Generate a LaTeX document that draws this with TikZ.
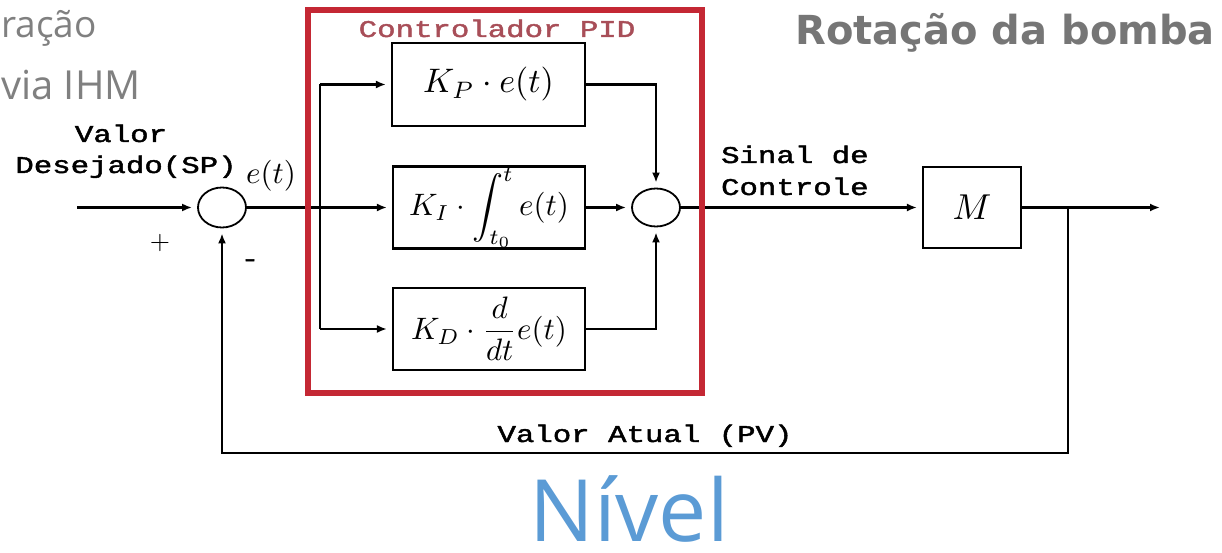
\documentclass[tikz,border=0pt]{standalone}
\usepackage{fontspec}
\usepackage{graphicx}
\usetikzlibrary{shapes.geometric,arrows.meta}
\newfontfamily\monof{Liberation Mono}[FakeBold=1.6]
\newfontfamily\opensans{Open Sans}
\newfontfamily\dejab{DejaVu Sans}
\definecolor{pidred}{RGB}{196,40,52}
\definecolor{pidtxt}{RGB}{168,78,88}
\definecolor{greytxt}{RGB}{128,128,128}
\definecolor{greydark}{RGB}{118,118,118}
\definecolor{niveltxt}{RGB}{91,155,213}
\newcommand{\mtx}[1]{\scalebox{1.28}[1]{\monof\fontsize{24}{28}\selectfont #1}}
\newcommand{\mth}[2][3.2]{\scalebox{#1}{$#2$}}
\begin{document}
\begin{tikzpicture}[x=1pt,y=-1pt,
  line width=2.2pt,
  >={Latex[length=10pt,width=8pt]},
  blk/.style={draw, line width=2.2pt, minimum width=192pt, minimum height=82pt, inner sep=0pt},
  sumj/.style={draw, ellipse, line width=1.8pt, minimum width=48pt, minimum height=40pt, inner sep=0pt},
  arr/.style={->, shorten >=5pt},
  lbl/.style={inner sep=0pt},
  grey/.style={inner sep=0pt, text=greytxt}]
\useasboundingbox (0,0) rectangle (1222,553);

% top texts
\node[grey, anchor=base west] (t1) at (0,38) {\opensans\fontsize{37}{44}\selectfont ração};
\node[grey, anchor=base west] (t2) at (0,100) {\opensans\fontsize{40}{46}\selectfont via IHM};
\node[inner sep=0pt, text=greydark, anchor=base east] (t3) at (1216,45) {\dejab\bfseries\fontsize{40}{46}\selectfont Rotação da bomba};
\node[inner sep=0pt, text=niveltxt, anchor=base] (t4) at (629,541) {\opensans\fontsize{86}{96}\selectfont Nível};

% blocks
\coordinate (in) at (77,207.5);
\node[sumj] (s1) at (222,207.5) {};
\coordinate (br) at (320,207.5);
\node[blk, minimum width=193pt, minimum height=83pt] (P) at (488.5,84.5) {\mth[3.4]{K_P\cdot e(t)}};
\node[blk] (I) at (489,207.5) {\mth[3.1]{K_I\cdot\displaystyle\int_{t_0}^{t} e(t)}};
\node[blk] (D) at (489,329) {\mth[3.1]{K_D\cdot\displaystyle\frac{d}{dt}e(t)}};
\node[sumj, minimum height=38pt] (s2) at (656,207.5) {};
\node[blk, minimum width=98pt, minimum height=81pt] (M) at (972,207.5) {\mth[3.6]{M}};
\coordinate (j) at (1068,207.5);
\coordinate (out) at (1160,207.5);
\coordinate (fb) at (1068,453);

% connectors
\draw[arr] (in) -- (s1.west);
\draw (s1.east) -- (br);
\draw[arr] (br) -- (I.west);
\draw (br |- P.west) -- (br |- D.west);
\draw[arr] (br |- P.west) -- (P.west);
\draw[arr] (br |- D.west) -- (D.west);
\draw[arr] (P.east) -| (s2.north);
\draw[arr] (D.east) -| (s2.south);
\draw[arr] (I.east) -- (s2.west);
\draw[arr] (s2.east) -- (M.west);
\draw[arr, shorten >=0pt] (M.east) -- (out);
\draw[arr] (j) -- (fb) -| (s1.south);

% PID frame
\node[draw=pidred, line width=6pt, minimum width=394pt, minimum height=383pt, inner sep=0pt] (pid) at (505,201.5) {};
\node[lbl, text=pidtxt, anchor=base] (pidl) at (497,37) {\mtx{Controlador PID}};

% labels
\node[lbl, anchor=base] (v1) at (121,142) {\mtx{Valor}};
\node[lbl, anchor=base] (v2) at (126,173) {\mtx{Desejado(SP)}};
\node[lbl] (et) at (271,176) {\mth[3.1]{e(t)}};
\node[lbl] (plus) at (160,243) {\mth[2.6]{+}};
\node[lbl] (minus) at (250,263) {\mtx{-}};
\node[lbl, anchor=base west] (c1) at (720,163) {\mtx{Sinal de}};
\node[lbl, anchor=base west] (c2) at (720,195) {\mtx{Controle}};
\node[lbl, anchor=base] (pv) at (645,442) {\mtx{Valor Atual (PV)}};
\end{tikzpicture}
\end{document}
